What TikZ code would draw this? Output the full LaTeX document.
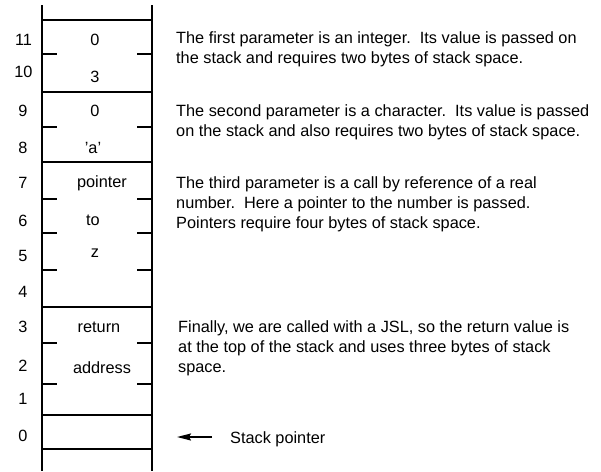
\documentclass[tikz,border=0pt]{standalone}
\usepackage{fontspec}
\setmainfont{Liberation Sans}
\usetikzlibrary{arrows.meta}
\begin{document}
\begin{tikzpicture}[x=1pt,y=-1pt,
  txt/.style={font=\fontsize{16.3}{20}\selectfont, inner sep=0pt, anchor=base west},
  cell/.style={font=\fontsize{16.3}{20}\selectfont, inner sep=0pt, anchor=base},
  num/.style={font=\fontsize{16.3}{20}\selectfont, inner sep=0pt, anchor=base},
  wall/.style={line width=2.2pt},
  full/.style={line width=2.2pt},
  tick/.style={line width=2.2pt}]
\useasboundingbox (0,0) rectangle (601,471);
% walls
\draw[wall] (42,5) -- (42,471);
\draw[wall] (152,5) -- (152,471);
% full separators
\foreach \y in {20,92,162,307,415,449} \draw[full] (42,\y) -- (152,\y);
% ticks
\foreach \y in {54,127,199,233,270,343,384} {
  \draw[tick] (42,\y) -- (57,\y);
  \draw[tick] (137,\y) -- (152,\y);
}
% byte numbers
\node[num] (n11) at (23.5,45) {11};
\node[num] (n10) at (23.5,77) {10};
\node[num] (n9) at (23,116) {9};
\node[num] (n8) at (23,153) {8};
\node[num] (n7) at (23,188) {7};
\node[num] (n6) at (23,226) {6};
\node[num] (n5) at (23,261) {5};
\node[num] (n4) at (23,297) {4};
\node[num] (n3) at (23,332) {3};
\node[num] (n2) at (23,371) {2};
\node[num] (n1) at (23,404) {1};
\node[num] (n0) at (23,441) {0};
% cell contents
\node[cell] (c11) at (95,45) {0};
\node[cell] (c10) at (95,82) {3};
\node[cell] (c9) at (95,116) {0};
\node[cell] (c8) at (93,153) {\char39 a\char39};
\node[cell] (c7) at (102,187) {pointer};
\node[cell] (c6) at (93,225) {to};
\node[cell] (c5) at (95,257) {z};
\node[cell] (c3) at (99,332) {return};
\node[cell] (c2) at (102,373) {address};
% explanations
\node[txt] (t1a) at (176,43) {The first parameter is an integer.\ \ Its value is passed on};
\node[txt] (t1b) at (176,63.5) {the stack and requires two bytes of stack space.};
\node[txt] (t2a) at (176,116) {The second parameter is a character.\ \ Its value is passed};
\node[txt] (t2b) at (176,136.5) {on the stack and also requires two bytes of stack space.};
\node[txt] (t3a) at (176,188) {The third parameter is a call by reference of a real};
\node[txt] (t3b) at (176,208) {number.\ \ Here a pointer to the number is passed.};
\node[txt] (t3c) at (176,228) {Pointers require four bytes of stack space.};
\node[txt] (t4a) at (178,332) {Finally, we are called with a JSL, so the return value is};
\node[txt] (t4b) at (178,352) {at the top of the stack and uses three bytes of stack};
\node[txt] (t4c) at (178,372) {space.};
\node[txt] (sp) at (230,443) {Stack pointer};
% stack pointer arrow
\coordinate (spA) at (212,437);
\coordinate (spB) at (177,437);
\draw[line width=1.8pt, -{Stealth[length=14pt,width=7pt,inset=2pt]}] (spA) -- (spB);
\end{tikzpicture}
\end{document}
